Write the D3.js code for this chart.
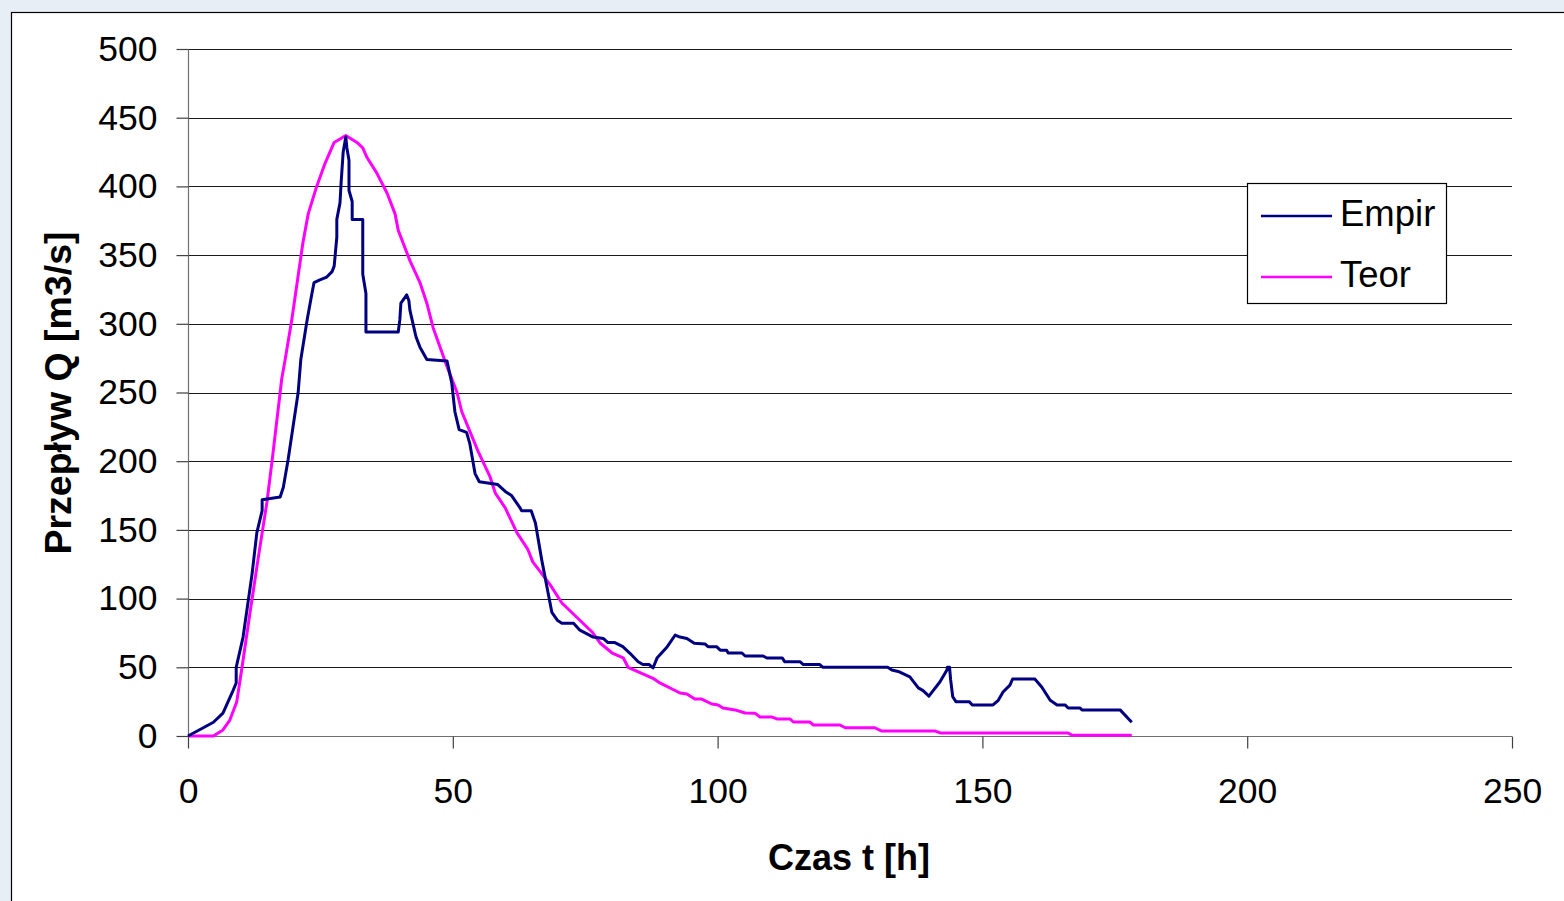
<!DOCTYPE html>
<html>
<head>
<meta charset="utf-8">
<script src="https://cdn.jsdelivr.net/npm/d3@7"></script>
<style>
  html, body { margin: 0; padding: 0; background: #e8eef6; }
  svg { display: block; }
  text { font-family: "Liberation Sans", Arial, sans-serif; fill: #000; }
</style>
</head>
<body>
<svg id="chart" width="1564" height="901"></svg>
<script>
// Observed hydrograph: [time h, discharge m3/s]
const empir = [
  [0,0],[2.8,5.8],[4.8,10],[6.6,16.7],[8.5,33],[9.1,38.6],[9.1,50],[10.4,72],[12.1,118],[13.0,148],
  [14.0,164],[14.0,172],[17.4,174],[18.0,181],[18.9,201],[20.8,250],[21.3,274],[22.5,303],[23.4,322],
  [23.8,330],[24.9,332],[26.2,334],[27.2,338],[27.6,342],[28.1,363],[28.1,376],[28.7,388],[28.9,402],
  [29.3,425],[29.8,436],[30.0,428],[30.4,419],[30.4,397],[31.0,389],[31.0,376],[33.0,376],[33.0,336],
  [33.6,322],[33.6,294],[39.7,294],[40.0,303],[40.2,315],[41.3,321],[41.7,317],[41.9,310],[42.9,293],
  [43.1,290],[43.8,283],[45.1,274],[48.9,273],[49.8,257],[50.4,236],[51.2,223],[52.6,221],[53.2,213],
  [54.2,191],[55.0,185],[58.5,183],[59.9,178],[61.1,175],[62.7,166],[63.0,164],[64.8,164],[65.6,155],
  [66.8,128],[68.7,90],[69.8,84],[70.6,82],[72.8,82],[74.0,77],[76.5,72],[78.4,71],[79.3,68],[80.6,68],
  [82.1,65],[83.5,60],[85.0,54],[85.9,52],[87.1,52],[87.8,49.5],[88.6,57],[90.5,65],[92.0,73.5],
  [92.9,72],[94.2,71],[95.6,67.5],[97.6,67],[98.2,65],[99.8,65],[100.5,62.5],[101.7,62.5],[102.0,60.4],
  [104.6,60.4],[105.2,58.2],[108.6,58.2],[109.3,56.8],[112.2,56.8],[112.7,54],[115.6,54],[116.2,52],
  [119.3,52],[119.9,50],[132.1,50],[132.9,48],[134.1,47],[136.3,43],[137.9,35],[138.8,33],[139.9,29],
  [142.0,39.5],[143.3,48],[143.4,50],[143.8,50],[144.0,41],[144.4,28.6],[145.0,25],[147.5,25],
  [148.1,22.6],[152.0,22.6],[153.0,26],[153.9,32],[155.2,37],[155.7,41.5],[159.9,41.5],[161.2,35.7],
  [162.8,26],[164.1,22.6],[165.6,22.6],[166.2,20.4],[168.4,20.4],[168.8,19],[176.0,19],[178.2,10]
];

// Theoretical hydrograph: [time h, discharge m3/s]
const teor = [
  [0,0],[4.8,0],[6.6,4.4],[7.9,11.6],[9.2,24.7],[10.2,50],[11.7,89.5],[13.2,128],[14.9,170],[15.9,201],
  [17.4,250],[17.7,260],[18.3,273],[19.6,303],[20.8,335],[21.7,359],[22.7,380],[24.3,400],[25.9,417],
  [27.6,432],[29.8,437],[31.9,432],[33.0,428],[33.8,421],[35.6,410],[37.6,395],[39.1,380],[39.7,368],
  [41.9,346],[43.8,330],[45.1,315],[46.3,297],[47.6,283],[48.9,269],[50.8,250],[51.7,236],[54.8,207],
  [57.0,189],[58.0,177],[59.9,166],[62.1,148],[64.2,135.6],[65.1,126.7],[68.4,110],[70.6,96.8],
  [76.3,75.7],[77.8,67.7],[80.1,60.4],[82.2,56.8],[83.1,50],[87.8,42],[89.1,38.6],[92.9,31.3],
  [94.2,30.6],[95.7,26.9],[97.0,26.9],[98.9,23.3],[100.1,22.6],[101.0,20.4],[103.3,19],[105.2,16.7],
  [107.1,16.5],[108.0,13.8],[110.3,13.8],[111.2,12.4],[113.7,12.4],[114.3,10.2],[117.4,10.2],[118.1,8],
  [123.1,8],[124.1,6],[129.7,6],[131.0,3.6],[141.1,3.6],[142.0,2.2],[166.2,2.2],[166.9,0.5],[178.2,0.5]
];

const xTicks = [0, 50, 100, 150, 200, 250];
const yTicks = [0, 50, 100, 150, 200, 250, 300, 350, 400, 450, 500];
const seriesNames = ["Empir", "Teor"];
const seriesColors = ["#000080", "#ff00ff"];
const xTitle = "Czas t [h]";
const yTitle = "Przepływ Q [m3/s]";

const svg = d3.select("#chart");
const plot = { left: 188, right: 1512, top: 49, bottom: 736 };

const x = d3.scaleLinear().domain([0, 250]).range([plot.left, plot.right]);
const y = d3.scaleLinear().domain([0, 500]).range([plot.bottom, plot.top]);

// Chart area frame
svg.append("rect")
  .attr("x", 11.5).attr("y", 12.5)
  .attr("width", 1600).attr("height", 1000)
  .attr("fill", "#fff").attr("stroke", "#000").attr("stroke-width", 1.2);

// Horizontal gridlines
svg.append("g")
  .selectAll("line")
  .data(yTicks.filter(d => d > 0))
  .join("line")
  .attr("x1", plot.left).attr("x2", plot.right)
  .attr("y1", d => Math.round(y(d)) + 0.5).attr("y2", d => Math.round(y(d)) + 0.5)
  .attr("stroke", "#1a1a1a").attr("stroke-width", 1.2);

// Axes
const yAxis = d3.axisLeft(y).tickValues(yTicks).tickSize(12).tickPadding(19);
const xAxis = d3.axisBottom(x).tickValues(xTicks).tickSize(12).tickPadding(29);

const gy = svg.append("g").attr("transform", `translate(${plot.left + 0.5},0)`).call(yAxis);
const gx = svg.append("g").attr("transform", `translate(0,${plot.bottom + 0.5})`).call(xAxis);

[gx, gy].forEach(g => {
  g.select(".domain").attr("stroke", "#707070").attr("stroke-width", 1.2);
  g.selectAll(".tick line").attr("stroke", "#404040").attr("stroke-width", 1.2);
  g.selectAll(".tick text")
    .attr("font-family", "Liberation Sans, Arial, sans-serif")
    .attr("font-size", 35.5)
    .attr("fill", "#000");
});
gy.select(".domain").attr("d", `M0,${plot.top}V${plot.bottom}`);
gx.select(".domain").attr("d", `M${plot.left},0H${plot.right}`);

// Series lines
const line = d3.line().x(d => x(d[0])).y(d => y(d[1]));
svg.append("path").datum(teor)
  .attr("d", line).attr("fill", "none")
  .attr("stroke", seriesColors[1]).attr("stroke-width", 3).attr("stroke-linejoin", "round");
svg.append("path").datum(empir)
  .attr("d", line).attr("fill", "none")
  .attr("stroke", seriesColors[0]).attr("stroke-width", 3).attr("stroke-linejoin", "round");

// Axis titles
svg.append("text")
  .attr("x", 849).attr("y", 870)
  .attr("text-anchor", "middle")
  .attr("font-size", 36).attr("font-weight", "bold")
  .text(xTitle);

svg.append("text")
  .attr("transform", "translate(71,393) rotate(-90)")
  .attr("text-anchor", "middle")
  .attr("font-size", 37.5).attr("font-weight", "bold")
  .text(yTitle);

// Legend
const legend = svg.append("g");
legend.append("rect")
  .attr("x", 1247.5).attr("y", 183.5).attr("width", 199).attr("height", 120)
  .attr("fill", "#fff").attr("stroke", "#000").attr("stroke-width", 1.2);
const rows = [216, 277];
seriesNames.forEach((name, i) => {
  legend.append("line")
    .attr("x1", 1261).attr("x2", 1332)
    .attr("y1", rows[i]).attr("y2", rows[i])
    .attr("stroke", seriesColors[i]).attr("stroke-width", 2.4);
  legend.append("text")
    .attr("x", 1340).attr("y", rows[i] + 10)
    .attr("font-size", 36.5)
    .text(name);
});
</script>
</body>
</html>
